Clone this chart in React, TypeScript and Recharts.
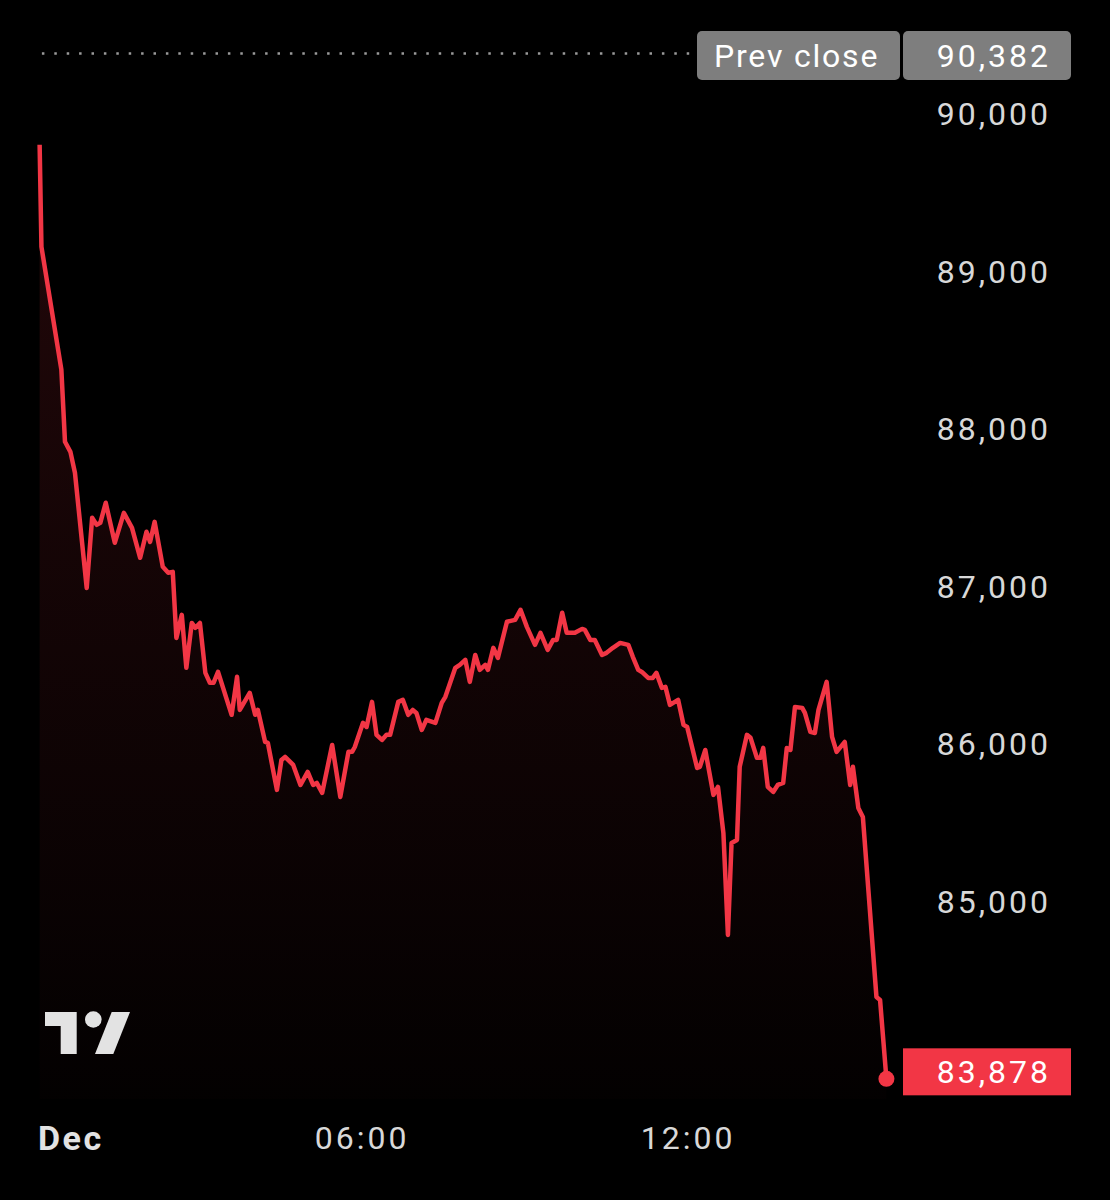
import React from 'react';
import { ComposedChart, Area, XAxis, YAxis, ReferenceLine, ReferenceDot } from 'recharts';

// minutes since 00:00 (Dec)
const TIMES = [
  4, 6, 28, 32, 38, 43, 56, 62, 67, 71,
  77, 87, 97, 106, 115, 122, 126, 131, 140, 146,
  151, 155, 161, 166, 172, 176, 181, 187, 192, 196,
  201, 216, 222, 225, 236, 242, 245, 253, 256, 266,
  271, 275, 284, 292, 300, 306, 310, 316, 327, 336,
  345, 349, 352, 361, 365, 371, 376, 382, 387, 391,
  400, 405, 411, 416, 420, 426, 431, 441, 448, 452,
  463, 468, 474, 479, 485, 490, 496, 499, 505, 510,
  520, 529, 535, 542, 551, 557, 565, 571, 575, 581,
  586, 595, 603, 606, 612, 617, 625, 630, 637, 645,
  654, 659, 665, 669, 676, 681, 685, 691, 695, 700,
  709, 715, 719, 730, 733, 739, 748, 753, 759, 764,
  768, 774, 777, 785, 789, 796, 800, 803, 808, 814,
  819, 825, 829, 833, 838, 846, 849, 855, 860, 864,
  873, 879, 884, 893, 899, 902, 908, 913, 928, 932,
  939,
];

const PRICES = [
  89803, 89156, 88376, 87919, 87855, 87722, 86992, 87437, 87392, 87405,
  87532, 87278, 87468, 87373, 87183, 87348, 87284, 87411, 87126, 87088,
  87094, 86675, 86821, 86485, 86770, 86739, 86770, 86453, 86390, 86390,
  86459, 86187, 86428, 86218, 86326, 86187, 86218, 86015, 86009, 85711,
  85901, 85920, 85869, 85742, 85825, 85742, 85755, 85692, 85996, 85666,
  85952, 85952, 85983, 86136, 86110, 86269, 86060, 86028, 86060, 86060,
  86269, 86282, 86187, 86218, 86199, 86091, 86155, 86136, 86263, 86301,
  86485, 86504, 86536, 86396, 86567, 86472, 86504, 86472, 86612, 86548,
  86777, 86789, 86853, 86745, 86631, 86707, 86599, 86662, 86662, 86834,
  86707, 86707, 86732, 86726, 86662, 86662, 86567, 86580, 86612, 86643,
  86631, 86555, 86472, 86459, 86421, 86421, 86453, 86358, 86364, 86250,
  86282, 86123, 86110, 85850, 85857, 85964, 85679, 85730, 85438, 84791,
  85374, 85393, 85857, 86060, 86041, 85914, 85914, 85977, 85730, 85698,
  85742, 85755, 85977, 85964, 86237, 86231, 86199, 86079, 86072, 86218,
  86396, 86047, 85952, 86015, 85742, 85857, 85596, 85539, 84397, 84378,
  83878,
];

const PREV_CLOSE = 90382;
const PREV_LABEL = 'Prev close';
const X_TICKS = [0, 360, 720];
const X_TICK_LABELS = ['Dec', '06:00', '12:00'];
const Y_TICKS = [84000, 85000, 86000, 87000, 88000, 89000, 90000];

const data = TIMES.map((t, i) => ({ t, price: PRICES[i] }));
const LAST = data[data.length - 1];

const RED = '#f23645';
const FONT = 'Roboto, "Noto Sans", sans-serif';
const fmt = (v: number) => v.toLocaleString('en-US');

function XTick(props: any) {
  const { x, y, payload } = props;
  const idx = X_TICKS.indexOf(payload.value);
  const first = idx === 0;
  return (
    <text
      x={first ? x + 2 : x}
      y={y + 31}
      dy="0.35em"
      textAnchor={first ? 'start' : 'middle'}
      fill={first ? '#e2e2e2' : '#d8d8d8'}
      fontWeight={first ? 700 : 400}
      fontSize={first ? 34 : 32}
      fontFamily={FONT}
      letterSpacing={first ? 2.5 : 3}
    >
      {X_TICK_LABELS[idx]}
    </text>
  );
}

function YTick(props: any) {
  const { x, y, payload } = props;
  // the tick hidden under the last-price tag only peeks out above it
  const covered = Math.abs(payload.value - LAST.price) < 300;
  const id = `clip-y-${payload.value}`;
  return (
    <g>
      {covered && (
        <defs>
          <clipPath id={id}>
            <rect x={x} y={y - 60} width={200} height={47} />
          </clipPath>
        </defs>
      )}
      <text
        x={x + 143}
        y={y}
        dy="0.35em"
        textAnchor="end"
        fill="#d8d8d8"
        fontSize={32}
        fontFamily={FONT}
        letterSpacing={3}
        clipPath={covered ? `url(#${id})` : undefined}
      >
        {fmt(payload.value)}
      </text>
    </g>
  );
}

function PrevCloseLabel(props: any) {
  const vb = props.viewBox || {};
  const right = vb.x + vb.width;
  const cy = vb.y + 2;
  return (
    <g>
      <rect x={right - 203} y={cy - 24.5} width={203} height={49} rx={5} fill="#7e7e7e" />
      <rect x={right + 3} y={cy - 24.5} width={168} height={49} rx={5} fill="#7e7e7e" />
      <text x={right - 186} y={cy} dy="0.35em" fill="#ffffff" fontSize={32} fontFamily={FONT} letterSpacing={1.8}>
        {PREV_LABEL}
      </text>
      <text x={right + 151} y={cy} dy="0.35em" textAnchor="end" fill="#ffffff" fontSize={32} fontFamily={FONT} letterSpacing={3}>
        {fmt(PREV_CLOSE)}
      </text>
    </g>
  );
}

function LastPriceLabel(props: any) {
  const vb = props.viewBox || {};
  const right = vb.x + vb.width;
  const cy = vb.y - 7;
  return (
    <g>
      <rect x={right + 3} y={cy - 23.5} width={168} height={47} fill={RED} />
      <text x={right + 151} y={cy} dy="0.35em" textAnchor="end" fill="#ffffff" fontSize={32} fontFamily={FONT} letterSpacing={3}>
        {fmt(LAST.price)}
      </text>
    </g>
  );
}

export default function App() {
  return (
    <div style={{ position: 'absolute', left: 0, top: 0, width: 1110, height: 1200, background: '#000', overflow: 'hidden' }}>
      <ComposedChart width={1110} height={1200} data={data} margin={{ top: 27, right: 0, bottom: 0, left: 36 }}>
        <defs>
          <linearGradient id="areaFill" x1="0" y1="0" x2="0" y2="1">
            <stop offset="0%" stopColor={RED} stopOpacity={0.24} />
            <stop offset="100%" stopColor={RED} stopOpacity={0.02} />
          </linearGradient>
        </defs>
        <XAxis
          dataKey="t"
          type="number"
          domain={[0, 954]}
          ticks={X_TICKS}
          height={101}
          axisLine={false}
          tickLine={false}
          tick={<XTick />}
          interval={0}
        />
        <YAxis
          orientation="right"
          type="number"
          domain={[83750, 90550]}
          ticks={Y_TICKS}
          width={210}
          axisLine={false}
          tickLine={false}
          tick={<YTick />}
          interval={0}
        />
        <ReferenceLine
          y={PREV_CLOSE}
          stroke="#9a9a9a"
          strokeWidth={2.5}
          strokeDasharray="2.5 9.9"
          label={<PrevCloseLabel />}
        />
        <Area
          type="linear"
          dataKey="price"
          stroke={RED}
          strokeWidth={4.5}
          strokeLinejoin="round"
          fill="url(#areaFill)"
          dot={false}
          activeDot={false}
          isAnimationActive={false}
        />
        <ReferenceDot x={LAST.t} y={LAST.price} r={8} fill={RED} stroke="none" />
        <ReferenceLine y={LAST.price} stroke="none" label={<LastPriceLabel />} />
      </ComposedChart>
      <svg width={1110} height={1200} style={{ position: 'absolute', left: 0, top: 0, pointerEvents: 'none' }}>
        <path d="M45,1012 H76.7 V1054 H60.7 V1026 H45 Z" fill="#e3e3e3" />
        <circle cx={93.3} cy={1019.5} r={8.3} fill="#e3e3e3" />
        <path d="M111.7,1012 H130 L113.3,1054 H95 Z" fill="#e3e3e3" />
      </svg>
    </div>
  );
}
